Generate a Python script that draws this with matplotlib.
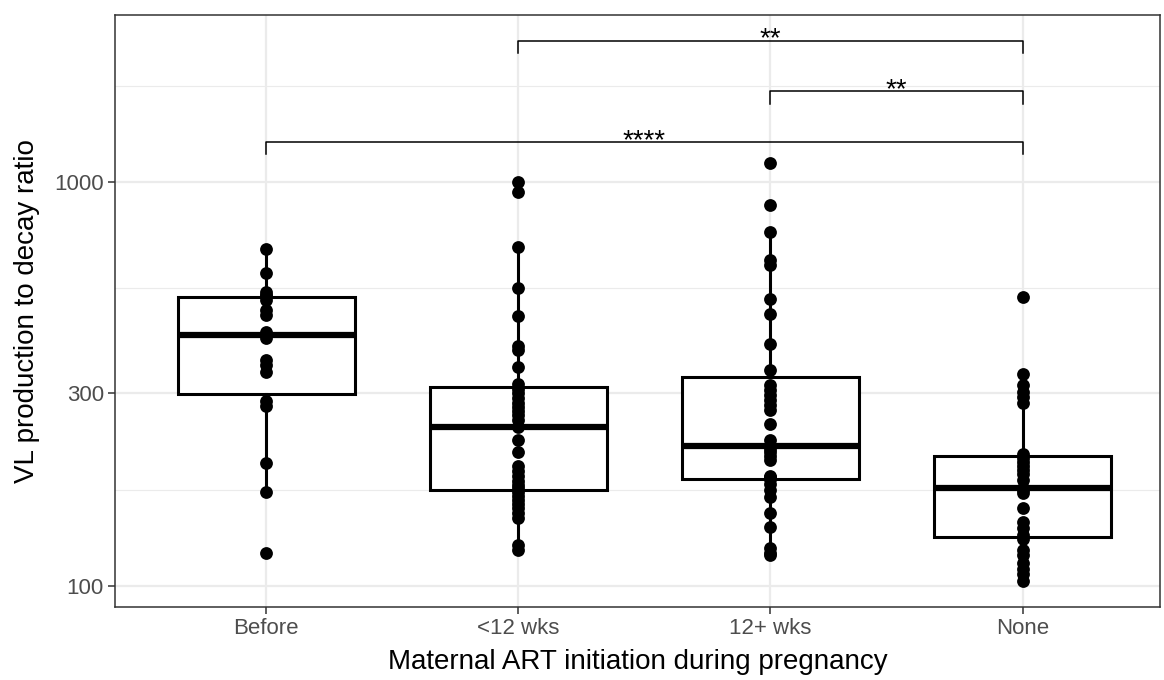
import numpy as np
import matplotlib.pyplot as plt
from matplotlib import cbook
from matplotlib.transforms import offset_copy

plt.rcParams['font.family'] = ['Liberation Sans', 'DejaVu Sans']

# data (VL production to decay ratio)
groups = ["Before", "<12 wks", "12+ wks", "None"]
before = [683, 596, 534, 525, 522, 511, 482, 469, 425, 411, 363, 352, 339,
          287, 279, 202, 171, 121]
lt12 = [1000, 945, 690, 547, 466, 393, 384, 348, 316, 307, 300, 292, 284,
        277, 271, 265, 258, 248, 230, 215, 198, 193, 187, 182, 178, 175,
        171, 167, 163, 160, 156, 152, 147, 126, 123]
ge12 = [1114, 877, 752, 641, 623, 513, 471, 397, 342, 315, 306, 297, 289,
        281, 273, 252, 230, 222, 218, 215, 210, 205, 187, 186, 185, 185,
        184, 179, 173, 166, 152, 140, 124, 121, 119]
none = [519, 335, 315, 302, 294, 284, 212, 207, 203, 198, 194, 189, 183,
        175, 173, 170, 156, 144, 139, 134, 131, 123, 119, 114, 110, 107, 103]
data = [before, lt12, ge12, none]

# significance comparisons
comp_a = ["<12 wks", "12+ wks", "Before"]
comp_b = ["None", "None", "None"]
comp_lab = ["**", "**", "****"]
comp_y = [2240, 1680, 1258]

yticks = [100, 300, 1000]

fig = plt.figure(figsize=(11.64, 6.8), dpi=100)
ax = fig.add_axes([115/1164, 1 - 607/680, 1045/1164, 592/680])
ax.set_yscale('log')

# box stats on log scale (like scale_y_log10)
stats = []
for d in data:
    s = cbook.boxplot_stats(np.log10(d), whis=1.5)[0]
    for k in ['med', 'q1', 'q3', 'whislo', 'whishi', 'mean']:
        s[k] = 10 ** s[k]
    s['fliers'] = []
    stats.append(s)

pos = np.arange(1, len(groups) + 1)
ax.bxp(stats, positions=pos, widths=0.7, showfliers=False, showcaps=False,
       patch_artist=True,
       boxprops=dict(facecolor='white', edgecolor='black', linewidth=2.2),
       whiskerprops=dict(color='black', linewidth=2.2),
       medianprops=dict(color='black', linewidth=4.5, solid_capstyle='butt'),
       zorder=2)

for p, d in zip(pos, data):
    ax.scatter([p] * len(d), d, s=85, color='black', zorder=3, linewidths=0)

# brackets
txt_tr = offset_copy(ax.transData, fig=fig, x=0, y=-6, units='dots')
for a, b, lab, y in zip(comp_a, comp_b, comp_lab, comp_y):
    x1 = groups.index(a) + 1
    x2 = groups.index(b) + 1
    tip = 10 ** (np.log10(y) - 0.031)
    ax.plot([x1, x1, x2, x2], [tip, y, y, tip], color='black', lw=1.1, zorder=4)
    ax.text((x1 + x2) / 2, y, lab, ha='center', va='baseline', fontsize=20,
            color='black', transform=txt_tr)

ax.set_xlim(0.4, 4.545)
ax.set_ylim(88.7, 2591)
ax.set_xticks(pos)
ax.set_xticklabels(groups)
ax.set_yticks(yticks)
ax.set_yticklabels([str(t) for t in yticks])
ax.yaxis.set_minor_locator(plt.FixedLocator(
    [np.sqrt(100 * 300), np.sqrt(300 * 1000), np.sqrt(1000 * 3000)]))
ax.yaxis.set_minor_formatter(plt.NullFormatter())

ax.grid(True, which='major', color='#EBEBEB', lw=1.6, zorder=0)
ax.grid(True, which='minor', axis='y', color='#EBEBEB', lw=0.8, zorder=0)
ax.set_axisbelow(True)
ax.tick_params(which='major', length=5, width=1.1, color='#333333',
               labelsize=16, labelcolor='#4D4D4D', pad=3)
ax.tick_params(which='minor', length=0)
for sp in ax.spines.values():
    sp.set_color('#333333')
    sp.set_linewidth(1.1)

ax.set_xlabel("Maternal ART initiation during pregnancy", fontsize=20, labelpad=7)
ax.set_ylabel("VL production to decay ratio", fontsize=20, labelpad=10)

fig.savefig("out.png", dpi=100)
